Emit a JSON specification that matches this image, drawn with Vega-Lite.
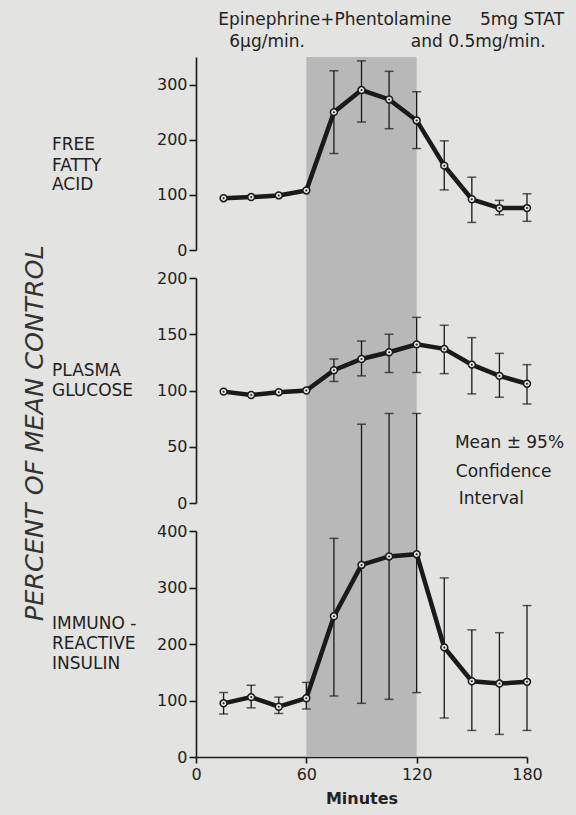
{
  "$schema": "https://vega.github.io/schema/vega-lite/v6.json",
  "background": "#e3e3e1",
  "padding": {"left": 23, "top": 10, "right": 11, "bottom": 11},
  "bounds": "flush",
  "spacing": 28,
  "config": {
    "view": {"stroke": null},
    "font": "DejaVu Sans",
    "axis": {
      "domainColor": "#1a1a1a", "domainWidth": 1.6, "tickColor": "#1a1a1a", "tickWidth": 1.6, "tickSize": 7,
      "labelFont": "DejaVu Sans", "labelFontSize": 16, "labelColor": "#222222", "labelPadding": 2,
      "grid": false, "labelFlush": false, "labelOverlap": false
    }
  },
  "datasets": {
    "ffa": [
      {"minute": 15, "mean": 94, "lo": null, "hi": null},
      {"minute": 30, "mean": 96, "lo": null, "hi": null},
      {"minute": 45, "mean": 99, "lo": null, "hi": null},
      {"minute": 60, "mean": 108, "lo": null, "hi": null},
      {"minute": 75, "mean": 250, "lo": 175, "hi": 325},
      {"minute": 90, "mean": 290, "lo": 232, "hi": 343},
      {"minute": 105, "mean": 273, "lo": 220, "hi": 324},
      {"minute": 120, "mean": 235, "lo": 184, "hi": 287},
      {"minute": 135, "mean": 153, "lo": 109, "hi": 198},
      {"minute": 150, "mean": 92, "lo": 50, "hi": 132},
      {"minute": 165, "mean": 76, "lo": 64, "hi": 90},
      {"minute": 180, "mean": 76, "lo": 52, "hi": 102}
    ],
    "glucose": [
      {"minute": 15, "mean": 99, "lo": null, "hi": null},
      {"minute": 30, "mean": 96, "lo": null, "hi": null},
      {"minute": 45, "mean": 98.5, "lo": null, "hi": null},
      {"minute": 60, "mean": 100, "lo": null, "hi": null},
      {"minute": 75, "mean": 118, "lo": 108, "hi": 128},
      {"minute": 90, "mean": 128, "lo": 113, "hi": 144},
      {"minute": 105, "mean": 134, "lo": 116, "hi": 150},
      {"minute": 120, "mean": 141, "lo": 116, "hi": 165},
      {"minute": 135, "mean": 137, "lo": 115, "hi": 158},
      {"minute": 150, "mean": 123, "lo": 97, "hi": 147},
      {"minute": 165, "mean": 113, "lo": 94, "hi": 133},
      {"minute": 180, "mean": 106, "lo": 88, "hi": 123}
    ],
    "insulin": [
      {"minute": 15, "mean": 95, "lo": 76, "hi": 114},
      {"minute": 30, "mean": 106, "lo": 87, "hi": 127},
      {"minute": 45, "mean": 89, "lo": 77, "hi": 106},
      {"minute": 60, "mean": 104, "lo": 85, "hi": 132},
      {"minute": 75, "mean": 249, "lo": 108, "hi": 387},
      {"minute": 90, "mean": 340, "lo": 95, "hi": 589},
      {"minute": 105, "mean": 355, "lo": 102, "hi": 608},
      {"minute": 120, "mean": 359, "lo": 114, "hi": 608},
      {"minute": 135, "mean": 194, "lo": 69, "hi": 317},
      {"minute": 150, "mean": 134, "lo": 47, "hi": 225},
      {"minute": 165, "mean": 130, "lo": 40, "hi": 220},
      {"minute": 180, "mean": 133, "lo": 47, "hi": 268}
    ],
    "ffaNotes": [
      {"label": "Epinephrine+Phentolamine", "minute": 12.1, "value": 418},
      {"label": "5mg STAT", "minute": 154.4, "value": 418},
      {"label": "6μg/min.", "minute": 18.1, "value": 378},
      {"label": "and 0.5mg/min.", "minute": 116.8, "value": 378},
      {"label": "FREE", "minute": -78.3, "value": 191},
      {"label": "FATTY", "minute": -78.3, "value": 153},
      {"label": "ACID", "minute": -78.3, "value": 118}
    ],
    "glucoseNotes": [
      {"label": "Mean ± 95%", "minute": 140.8, "value": 53},
      {"label": "Confidence", "minute": 141.3, "value": 27.5},
      {"label": "Interval", "minute": 142.9, "value": 3.5},
      {"label": "PLASMA", "minute": -78.3, "value": 117},
      {"label": "GLUCOSE", "minute": -78.3, "value": 100}
    ],
    "insulinNotes": [
      {"label": "IMMUNO -", "minute": -78.3, "value": 235},
      {"label": "REACTIVE", "minute": -78.3, "value": 200},
      {"label": "INSULIN", "minute": -78.3, "value": 165}
    ],
    "axisTitle": [
      {"label": "PERCENT OF MEAN CONTROL", "minute": -87.5, "value": 62}
    ]
  },
  "vconcat": [
    {
      "width": 331, "height": 193,
      "data": {"name": "ffa"},
      "encoding": {"x": {"field": "minute", "type": "quantitative", "scale": {"domain": [0, 180], "nice": false}, "axis": null}},
      "layer": [
        {"data": {"values": [{"start": 60, "end": 120}]}, "mark": {"type": "rect", "color": "#b8b8b8"},
         "encoding": {"x": {"field": "start", "type": "quantitative"}, "x2": {"field": "end"},
                      "y": {"datum": 350, "type": "quantitative", "scale": {"domain": [0, 350], "nice": false, "zero": false}, "title": null}, "y2": {"datum": -51}}},
        {"mark": {"type": "rule", "color": "#1a1a1a", "strokeWidth": 1.3},
         "encoding": {"y": {"field": "lo", "type": "quantitative", "scale": {"domain": [0, 350], "nice": false, "zero": false}, "title": null}, "y2": {"field": "hi"}}},
        {"mark": {"type": "tick", "orient": "horizontal", "size": 9, "thickness": 1.5, "color": "#1a1a1a"},
         "encoding": {"y": {"field": "lo", "type": "quantitative", "scale": {"domain": [0, 350], "nice": false, "zero": false}, "title": null}}},
        {"mark": {"type": "tick", "orient": "horizontal", "size": 9, "thickness": 1.5, "color": "#1a1a1a"},
         "encoding": {"y": {"field": "hi", "type": "quantitative", "scale": {"domain": [0, 350], "nice": false, "zero": false}, "title": null}}},
        {"mark": {"type": "line", "color": "#1a1a1a", "strokeWidth": 4.5},
         "encoding": {"y": {"field": "mean", "type": "quantitative", "scale": {"domain": [0, 350], "nice": false, "zero": false}, "title": null,
                            "axis": {"values": [0, 100, 200, 300]}}}},
        {"mark": {"type": "point", "shape": "circle", "filled": true, "fill": "#e3e3e1", "stroke": "#1a1a1a", "strokeWidth": 1.5, "size": 48, "opacity": 1},
         "encoding": {"y": {"field": "mean", "type": "quantitative", "scale": {"domain": [0, 350], "nice": false, "zero": false}, "title": null}}},
        {"mark": {"type": "point", "shape": "circle", "filled": true, "color": "#1a1a1a", "size": 4, "opacity": 1},
         "encoding": {"y": {"field": "mean", "type": "quantitative", "scale": {"domain": [0, 350], "nice": false, "zero": false}, "title": null}}},
        {"data": {"name": "ffaNotes"}, "mark": {"type": "text", "align": "left", "baseline": "middle", "fontSize": 17, "color": "#222222"},
         "encoding": {"y": {"field": "value", "type": "quantitative", "scale": {"domain": [0, 350], "nice": false, "zero": false}, "title": null},
                      "text": {"field": "label", "type": "nominal"}}}
      ]
    },
    {
      "width": 331, "height": 225,
      "data": {"name": "glucose"},
      "encoding": {"x": {"field": "minute", "type": "quantitative", "scale": {"domain": [0, 180], "nice": false}, "axis": null}},
      "layer": [
        {"data": {"values": [{"start": 60, "end": 120}]}, "mark": {"type": "rect", "color": "#b8b8b8"},
         "encoding": {"x": {"field": "start", "type": "quantitative"}, "x2": {"field": "end"},
                      "y": {"datum": 200, "type": "quantitative", "scale": {"domain": [0, 200], "nice": false, "zero": false}, "title": null}, "y2": {"datum": -25}}},
        {"mark": {"type": "rule", "color": "#1a1a1a", "strokeWidth": 1.3},
         "encoding": {"y": {"field": "lo", "type": "quantitative", "scale": {"domain": [0, 200], "nice": false, "zero": false}, "title": null}, "y2": {"field": "hi"}}},
        {"mark": {"type": "tick", "orient": "horizontal", "size": 9, "thickness": 1.5, "color": "#1a1a1a"},
         "encoding": {"y": {"field": "lo", "type": "quantitative", "scale": {"domain": [0, 200], "nice": false, "zero": false}, "title": null}}},
        {"mark": {"type": "tick", "orient": "horizontal", "size": 9, "thickness": 1.5, "color": "#1a1a1a"},
         "encoding": {"y": {"field": "hi", "type": "quantitative", "scale": {"domain": [0, 200], "nice": false, "zero": false}, "title": null}}},
        {"mark": {"type": "line", "color": "#1a1a1a", "strokeWidth": 4.5},
         "encoding": {"y": {"field": "mean", "type": "quantitative", "scale": {"domain": [0, 200], "nice": false, "zero": false}, "title": null,
                            "axis": {"values": [0, 50, 100, 150, 200]}}}},
        {"mark": {"type": "point", "shape": "circle", "filled": true, "fill": "#e3e3e1", "stroke": "#1a1a1a", "strokeWidth": 1.5, "size": 48, "opacity": 1},
         "encoding": {"y": {"field": "mean", "type": "quantitative", "scale": {"domain": [0, 200], "nice": false, "zero": false}, "title": null}}},
        {"mark": {"type": "point", "shape": "circle", "filled": true, "color": "#1a1a1a", "size": 4, "opacity": 1},
         "encoding": {"y": {"field": "mean", "type": "quantitative", "scale": {"domain": [0, 200], "nice": false, "zero": false}, "title": null}}},
        {"data": {"name": "glucoseNotes"}, "mark": {"type": "text", "align": "left", "baseline": "middle", "fontSize": 17, "color": "#222222"},
         "encoding": {"y": {"field": "value", "type": "quantitative", "scale": {"domain": [0, 200], "nice": false, "zero": false}, "title": null},
                      "text": {"field": "label", "type": "nominal"}}},
        {"data": {"name": "axisTitle"}, "mark": {"type": "text", "align": "center", "baseline": "middle", "fontSize": 25.5, "fontStyle": "italic", "angle": 270, "color": "#333333"},
         "encoding": {"y": {"field": "value", "type": "quantitative", "scale": {"domain": [0, 200], "nice": false, "zero": false}, "title": null},
                      "text": {"field": "label", "type": "nominal"}}}
      ]
    },
    {
      "width": 331, "height": 226,
      "data": {"name": "insulin"},
      "encoding": {"x": {"field": "minute", "type": "quantitative", "scale": {"domain": [0, 180], "nice": false},
                         "axis": {"values": [0, 60, 120, 180], "title": "Minutes", "titleFont": "DejaVu Sans", "titleFontSize": 16, "titleFontWeight": "bold", "titleColor": "#222222", "titlePadding": 8, "labelPadding": 3, "tickSize": 6}}},
      "layer": [
        {"data": {"values": [{"start": 60, "end": 120}]}, "mark": {"type": "rect", "color": "#b8b8b8"},
         "encoding": {"x": {"field": "start", "type": "quantitative", "title": "Minutes"}, "x2": {"field": "end"},
                      "y": {"datum": 400, "type": "quantitative", "scale": {"domain": [0, 400], "nice": false, "zero": false}, "title": null}, "y2": {"datum": 0}}},
        {"mark": {"type": "rule", "color": "#1a1a1a", "strokeWidth": 1.3},
         "encoding": {"y": {"field": "lo", "type": "quantitative", "scale": {"domain": [0, 400], "nice": false, "zero": false}, "title": null}, "y2": {"field": "hi"}}},
        {"mark": {"type": "tick", "orient": "horizontal", "size": 9, "thickness": 1.5, "color": "#1a1a1a"},
         "encoding": {"y": {"field": "lo", "type": "quantitative", "scale": {"domain": [0, 400], "nice": false, "zero": false}, "title": null}}},
        {"mark": {"type": "tick", "orient": "horizontal", "size": 9, "thickness": 1.5, "color": "#1a1a1a"},
         "encoding": {"y": {"field": "hi", "type": "quantitative", "scale": {"domain": [0, 400], "nice": false, "zero": false}, "title": null}}},
        {"mark": {"type": "line", "color": "#1a1a1a", "strokeWidth": 4.5},
         "encoding": {"y": {"field": "mean", "type": "quantitative", "scale": {"domain": [0, 400], "nice": false, "zero": false}, "title": null,
                            "axis": {"values": [0, 100, 200, 300, 400]}}}},
        {"mark": {"type": "point", "shape": "circle", "filled": true, "fill": "#e3e3e1", "stroke": "#1a1a1a", "strokeWidth": 1.5, "size": 48, "opacity": 1},
         "encoding": {"y": {"field": "mean", "type": "quantitative", "scale": {"domain": [0, 400], "nice": false, "zero": false}, "title": null}}},
        {"mark": {"type": "point", "shape": "circle", "filled": true, "color": "#1a1a1a", "size": 4, "opacity": 1},
         "encoding": {"y": {"field": "mean", "type": "quantitative", "scale": {"domain": [0, 400], "nice": false, "zero": false}, "title": null}}},
        {"data": {"name": "insulinNotes"}, "mark": {"type": "text", "align": "left", "baseline": "middle", "fontSize": 17, "color": "#222222"},
         "encoding": {"y": {"field": "value", "type": "quantitative", "scale": {"domain": [0, 400], "nice": false, "zero": false}, "title": null},
                      "text": {"field": "label", "type": "nominal"}}}
      ]
    }
  ]
}
